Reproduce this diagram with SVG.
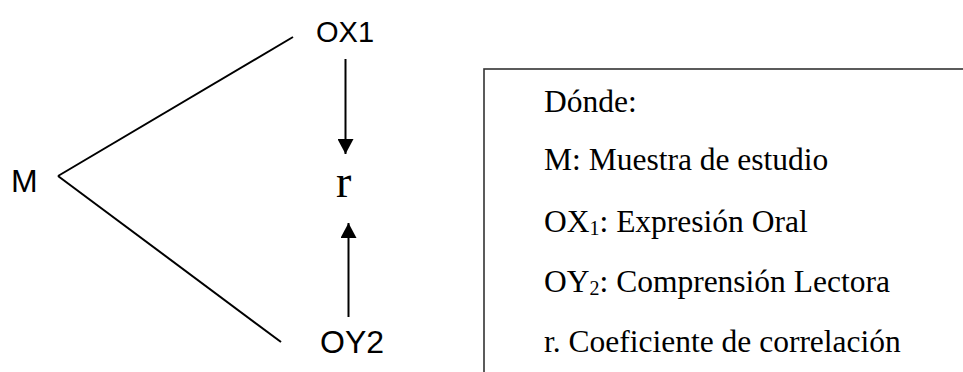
<svg xmlns="http://www.w3.org/2000/svg" width="963" height="372" viewBox="0 0 963 372">
<style>
.sans{font-family:"Liberation Sans",Arial,sans-serif;fill:#000}
.serif{font-family:"Liberation Serif","Times New Roman",serif;fill:#000}
.leg{font-size:31.5px}
.ln{stroke:#000;stroke-width:2;fill:none}
</style>
<defs>
<marker id="ah" viewBox="0 0 15 16" refX="15" refY="8" markerWidth="15" markerHeight="16" markerUnits="userSpaceOnUse" orient="auto">
<path d="M0,0 L15,8 L0,16 Z" fill="#000"/>
</marker>
</defs>
<g id="connectors">
<line class="ln" x1="58" y1="176" x2="293" y2="37"/>
<line class="ln" x1="58" y1="176" x2="281" y2="342"/>
<line class="ln" x1="345.5" y1="59" x2="345.5" y2="154" marker-end="url(#ah)"/>
<line class="ln" x1="348.5" y1="317" x2="348.5" y2="223" marker-end="url(#ah)"/>
</g>
<g id="node-M"><text class="sans" x="11" y="192" font-size="32">M</text></g>
<g id="node-OX1"><text class="sans" x="316" y="42" font-size="29">OX1</text></g>
<g id="node-r"><text class="serif" x="336" y="197" font-size="46">r</text></g>
<g id="node-OY2"><text class="sans" x="320" y="353" font-size="32">OY2</text></g>
<g id="legend">
<rect x="484" y="69" width="520" height="340" fill="none" stroke="#333" stroke-width="1.6"/>
<text class="serif leg" x="544" y="112">Dónde:</text>
<text class="serif leg" x="544" y="170">M: Muestra de estudio</text>
<text class="serif leg" x="544" y="232">OX<tspan font-size="20" dy="3">1</tspan><tspan dy="-3">: Expresión Oral</tspan></text>
<text class="serif leg" x="544" y="292">OY<tspan font-size="20" dy="3">2</tspan><tspan dy="-3">: Comprensión Lectora</tspan></text>
<text class="serif leg" x="544" y="352">r. Coeficiente de correlación</text>
</g>
</svg>
